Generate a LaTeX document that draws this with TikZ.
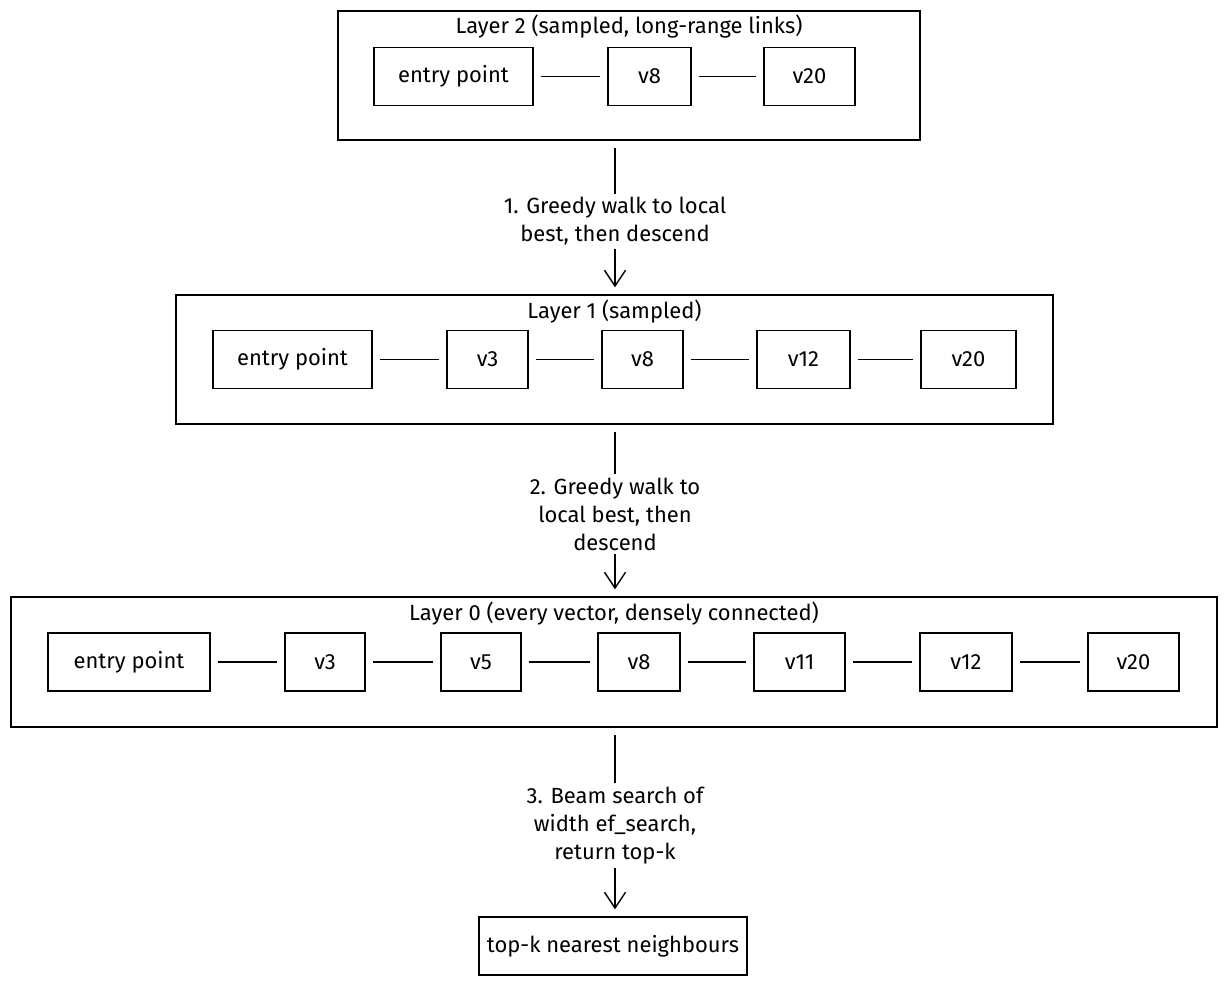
\documentclass[tikz,border=0pt]{standalone}
\usepackage{fontspec}
\setmainfont{Fira Sans}
\usetikzlibrary{arrows.meta}
\begin{document}
\begin{tikzpicture}[x=0.02cm,y=-0.02cm,>={Straight Barb[length=9pt,width=12pt]},
every node/.style={font=\fontsize{12.5}{16}\selectfont},
frame/.style={draw,thick,inner sep=0pt},
vtx/.style={draw,thick,inner sep=0pt,minimum height=1.16cm},
link/.style={thick,shorten <=4pt,shorten >=4pt},
descent/.style={thick,->,shorten >=4pt},
steplabel/.style={fill=white,align=center,inner sep=2pt}]

\useasboundingbox (0,0) rectangle (1227,989);

% layer 2
\node[frame,minimum width=11.64cm,minimum height=2.58cm] (l2) at (629,75.5) {};
\node (l2t) at (629,27) {Layer 2 (sampled, long-range links)};
\node[vtx,minimum width=3.18cm] (l2e) at (453.5,76.5) {entry point};
\node[vtx,minimum width=1.66cm] (l2v8) at (649.5,76.5) {v8};
\node[vtx,minimum width=1.82cm] (l2v20) at (809.5,76.5) {v20};
\draw[link] (l2e) -- (l2v8);
\draw[link] (l2v8) -- (l2v20);

% layer 1
\node[frame,minimum width=17.54cm,minimum height=2.58cm] (l1) at (614.5,359.5) {};
\node (l1t) at (614.5,312) {Layer 1 (sampled)};
\node[vtx,minimum width=3.18cm] (l1e) at (292.5,359.5) {entry point};
\node[vtx,minimum width=1.62cm] (l1v3) at (487.5,359.5) {v3};
\node[vtx,minimum width=1.62cm] (l1v8) at (642.5,359.5) {v8};
\node[vtx,minimum width=1.86cm] (l1v12) at (803.5,359.5) {v12};
\node[vtx,minimum width=1.90cm] (l1v20) at (968.5,359.5) {v20};
\foreach \a/\b in {l1e/l1v3,l1v3/l1v8,l1v8/l1v12,l1v12/l1v20}
  \draw[link] (\a) -- (\b);

% layer 0
\node[frame,minimum width=24.12cm,minimum height=2.6cm] (l0) at (614,662) {};
\node (l0t) at (614,614) {Layer 0 (every vector, densely connected)};
\node[vtx,minimum width=3.24cm] (l0e) at (129,662) {entry point};
\node[vtx,minimum width=1.60cm] (l0v3) at (325,662) {v3};
\node[vtx,minimum width=1.60cm] (l0v5) at (481,662) {v5};
\node[vtx,minimum width=1.64cm] (l0v8) at (639,662) {v8};
\node[vtx,minimum width=1.82cm] (l0v11) at (799.5,662) {v11};
\node[vtx,minimum width=1.84cm] (l0v12) at (966,662) {v12};
\node[vtx,minimum width=1.82cm] (l0v20) at (1133.5,662) {v20};
\foreach \a/\b in {l0e/l0v3,l0v3/l0v5,l0v5/l0v8,l0v8/l0v11,l0v11/l0v12,l0v12/l0v20}
  \draw[link] (\a) -- (\b);

% result
\node[vtx,minimum width=5.36cm] (res) at (613,946) {top-k nearest neighbours};

% descent steps
\coordinate (s1) at (615,148);
\coordinate (s2) at (615,432);
\coordinate (s3) at (615,735);
\draw[descent] (s1) -- node[steplabel] {1. Greedy walk to local\\best, then descend} (l1.north -| s1);
\draw[descent] (s2) -- node[steplabel] {2. Greedy walk to\\local best, then\\descend} (l0.north -| s2);
\draw[descent] (s3) -- node[steplabel] {3. Beam search of\\width ef\_search,\\return top-k} (res.north -| s3);

\end{tikzpicture}
\end{document}
